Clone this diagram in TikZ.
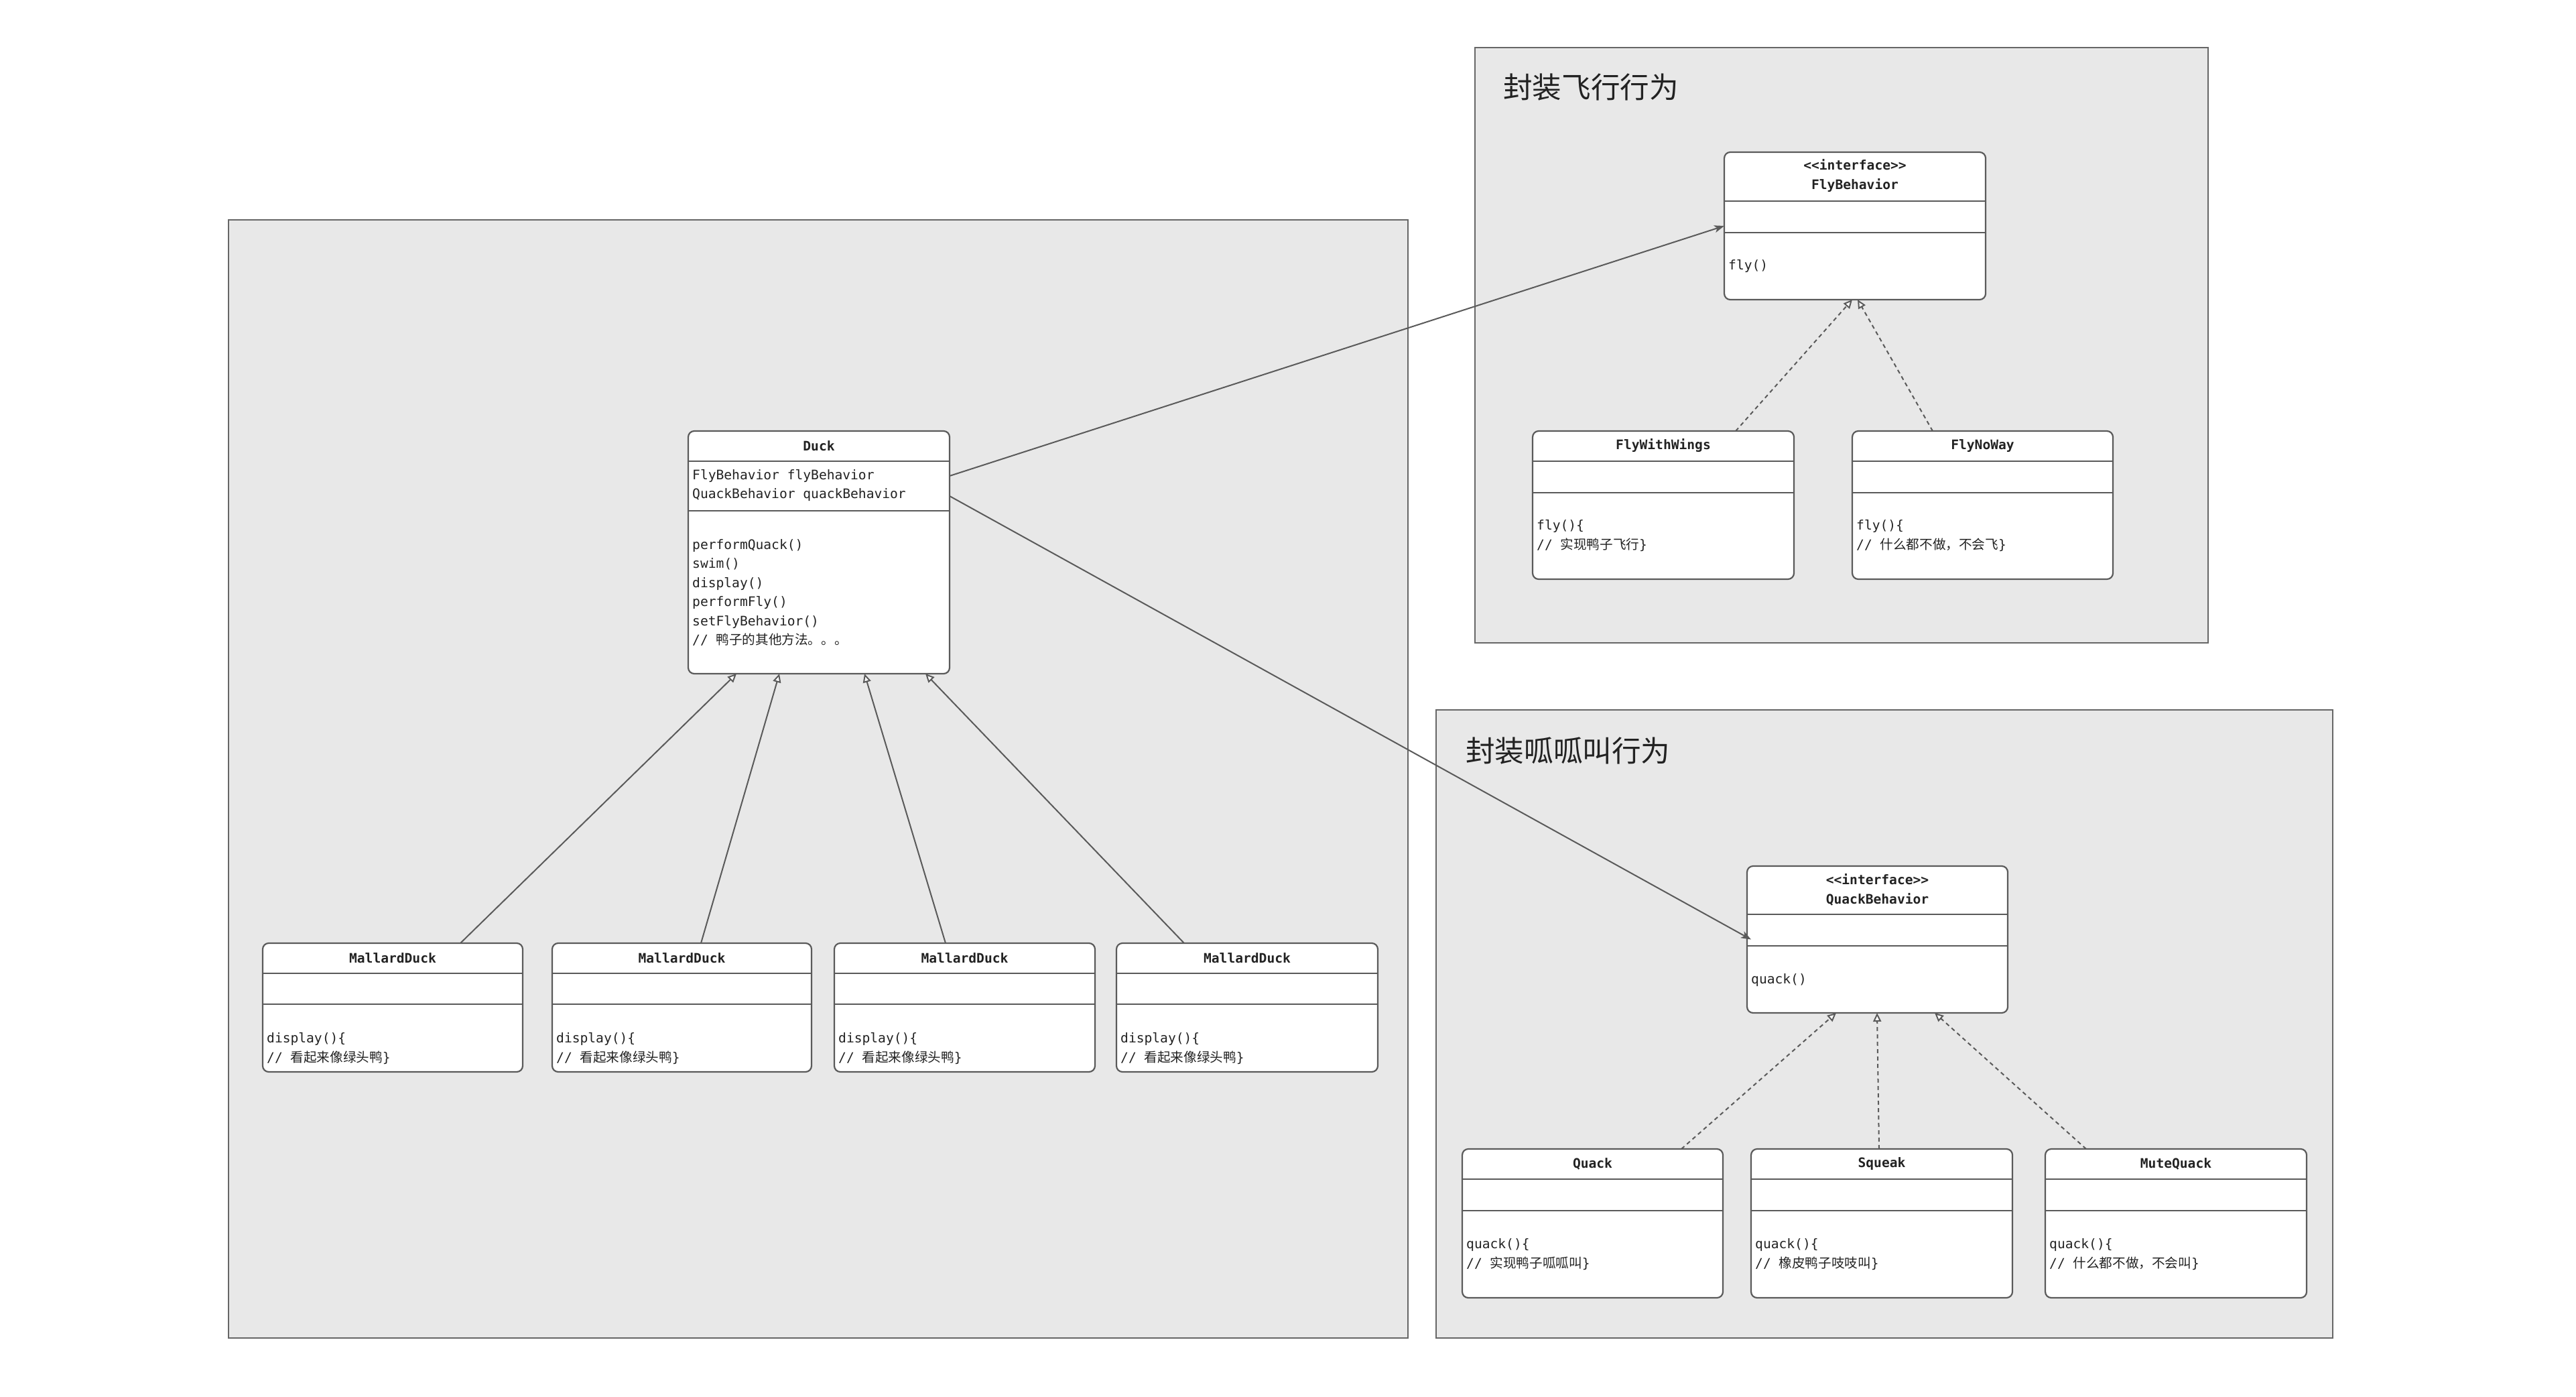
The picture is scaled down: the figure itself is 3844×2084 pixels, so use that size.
\documentclass[tikz,border=0pt]{standalone}
\usepackage{fontspec}
\setmainfont{DejaVu Sans}
\newfontfamily\monof{DejaVu Sans Mono}
\newfontfamily\cjk{Noto Sans CJK SC}
\usetikzlibrary{arrows.meta,calc}
\definecolor{lc}{HTML}{5A5A5A}
\definecolor{gfill}{HTML}{E8E8E8}
\definecolor{gline}{HTML}{666666}
\definecolor{tc}{HTML}{222222}
\tikzset{
  classbox/.style={draw=lc, line width=2.2pt, fill=white, rounded corners=9pt, inner sep=0pt, outer sep=0pt},
  divline/.style={draw=lc, line width=2.2pt},
  grp/.style={draw=gline, line width=2pt, fill=gfill, inner sep=0pt, outer sep=0pt},
  mtxt/.style={font=\monof\fontsize{19.6}{28.4}\selectfont, text=tc, align=left, inner sep=0pt, anchor=west},
  ttxt/.style={font=\monof\bfseries\fontsize{19.6}{29}\selectfont, text=tc, align=center, inner sep=0pt},
  gtitle/.style={font=\cjk\fontsize{43.6}{50}\selectfont, text=tc, inner sep=0pt, anchor=west},
  inh/.style={draw=lc, line width=2pt, -{Triangle[length=13pt,width=12pt,fill=white]}},
  impl/.style={inh, dash pattern=on 6pt off 5pt},
  assoc/.style={draw=lc, line width=2pt, -{Stealth[length=15pt,width=11pt,inset=4pt]}},
}
% name, left, top, right, bottom, divider1, divider2
\newcommand\umlcls[7]{%
  \node[classbox, minimum width={#4-#2}, minimum height={#5-#3}] (#1) at ({(#2+#4)/2},{(#3+#5)/2}) {};
  \draw[divline] (#2,#6) -- (#4,#6);
  \draw[divline] (#2,#7) -- (#4,#7);
}
\newcommand\grpbox[5]{%
  \node[grp, minimum width={#4-#2}, minimum height={#5-#3}] (#1) at ({(#2+#4)/2},{(#3+#5)/2}) {};
}
\begin{document}
\begin{tikzpicture}[x=1pt,y=-1pt]
\fill[white] (0,0) rectangle (3844,2084);
\useasboundingbox (0,0) rectangle (3844,2084);

% groups
\grpbox{gduck}{341}{328}{2101}{1996}
\grpbox{gfly}{2201}{71}{3295}{959}
\grpbox{gquack}{2143}{1059}{3481}{1996}
\node[gtitle] (tfly) at (2243,130) {封装飞行行为};
\node[gtitle] (tquack) at (2187,1120) {封装呱呱叫行为};

% Duck
\umlcls{duck}{1027}{643}{1417}{1005}{688}{762}
\node[ttxt] (duckT) at (1222,665) {Duck};
\node[mtxt] (duckA) at (1033,724) {FlyBehavior flyBehavior\\QuackBehavior quackBehavior};
\node[mtxt] (duckM) at (1033,884) {performQuack()\\swim()\\display()\\performFly()\\setFlyBehavior()\\// {\cjk 鸭子的其他方法。。。}};

% MallardDucks
\umlcls{mdA}{392}{1407}{780}{1599}{1452}{1498}
\node[ttxt] (mdAT) at (586,1429) {MallardDuck};
\node[mtxt] (mdAM) at (398,1564) {display()\{\\// {\cjk 看起来像绿头鸭}\}};
\umlcls{mdB}{824}{1407}{1211}{1599}{1452}{1498}
\node[ttxt] (mdBT) at (1017.5,1429) {MallardDuck};
\node[mtxt] (mdBM) at (830,1564) {display()\{\\// {\cjk 看起来像绿头鸭}\}};
\umlcls{mdC}{1245}{1407}{1634}{1599}{1452}{1498}
\node[ttxt] (mdCT) at (1439.5,1429) {MallardDuck};
\node[mtxt] (mdCM) at (1251,1564) {display()\{\\// {\cjk 看起来像绿头鸭}\}};
\umlcls{mdD}{1666}{1407}{2056}{1599}{1452}{1498}
\node[ttxt] (mdDT) at (1861,1429) {MallardDuck};
\node[mtxt] (mdDM) at (1672,1564) {display()\{\\// {\cjk 看起来像绿头鸭}\}};

% FlyBehavior
\umlcls{flyb}{2573}{227}{2963}{447}{300}{347}
\node[ttxt] (flybT) at (2768,262.5) {<\kern0pt<interface>\kern0pt>\\FlyBehavior};
\node[mtxt] (flybM) at (2579,397) {fly()};
\umlcls{fww}{2287}{643}{2677}{864}{688}{735}
\node[ttxt] (fwwT) at (2482,665) {FlyWithWings};
\node[mtxt] (fwwM) at (2293,799) {fly()\{\\// {\cjk 实现鸭子飞行}\}};
\umlcls{fnw}{2764}{643}{3153}{864}{688}{735}
\node[ttxt] (fnwT) at (2958.5,665) {FlyNoWay};
\node[mtxt] (fnwM) at (2770,799) {fly()\{\\// {\cjk 什么都不做，不会飞}\}};

% QuackBehavior
\umlcls{qb}{2607}{1292}{2996}{1511}{1364}{1411}
\node[ttxt] (qbT) at (2801.5,1327) {<\kern0pt<interface>\kern0pt>\\QuackBehavior};
\node[mtxt] (qbM) at (2613,1462) {quack()};
\umlcls{qk}{2182}{1714}{2571}{1936}{1759}{1806}
\node[ttxt] (qkT) at (2376.5,1736) {Quack};
\node[mtxt] (qkM) at (2188,1871) {quack()\{\\// {\cjk 实现鸭子呱呱叫}\}};
\umlcls{sq}{2613}{1714}{3003}{1936}{1759}{1806}
\node[ttxt] (sqT) at (2808,1736) {Squeak};
\node[mtxt] (sqM) at (2619,1871) {quack()\{\\// {\cjk 橡皮鸭子吱吱叫}\}};
\umlcls{mq}{3052}{1714}{3442}{1936}{1759}{1806}
\node[ttxt] (mqT) at (3247,1736) {MuteQuack};
\node[mtxt] (mqM) at (3058,1871) {quack()\{\\// {\cjk 什么都不做，不会叫}\}};

% inheritance
\draw[inh] ($(mdA.north west)+(295,0)$) -- ($(duck.south west)+(72,0)$);
\draw[inh] ($(mdB.north west)+(222,0)$) -- ($(duck.south west)+(136,0)$);
\draw[inh] ($(mdC.north west)+(166,0)$) -- ($(duck.south west)+(263,0)$);
\draw[inh] ($(mdD.north west)+(101,0)$) -- ($(duck.south west)+(354,0)$);

% realization
\draw[impl] ($(fww.north west)+(303,0)$) -- ($(flyb.south west)+(191,0)$);
\draw[impl] ($(fnw.north west)+(120,0)$) -- ($(flyb.south west)+(199,0)$);
\draw[impl] ($(qk.north west)+(327,0)$) -- ($(qb.south west)+(133,0)$);
\draw[impl] ($(sq.north west)+(191,0)$) -- ($(qb.south west)+(194,0)$);
\draw[impl] ($(mq.north west)+(61,0)$) -- ($(qb.south west)+(280,0)$);

% associations
\draw[assoc] ($(duck.north east)+(0,67)$) -- (flyb.west);
\draw[assoc] ($(duck.north east)+(0,97)$) -- ($(qb.west)+(6,0)$);
\end{tikzpicture}
\end{document}
